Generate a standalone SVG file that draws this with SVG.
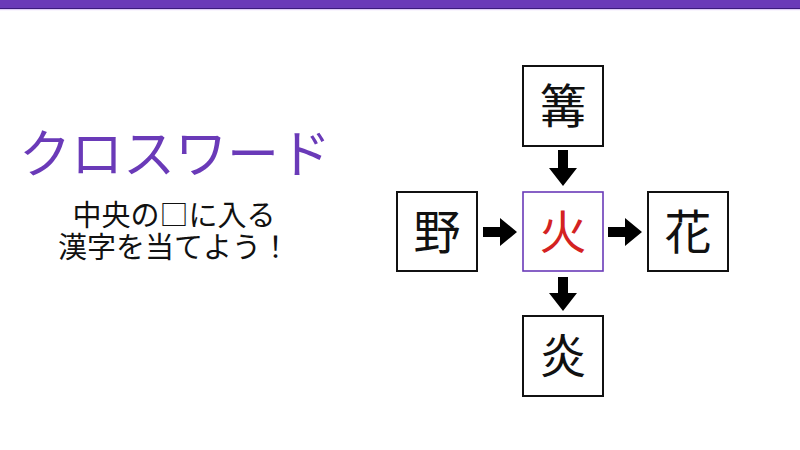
<svg xmlns="http://www.w3.org/2000/svg" width="800" height="450" viewBox="0 0 800 450">
<style>
.jp{font-family:"Noto Sans CJK JP","Noto Sans",sans-serif;}
.box{fill:#fff;stroke:#111;stroke-width:2;}
.cbox{fill:#fff;stroke:#6a3ab8;stroke-width:1.6;}
.k{font-size:47px;text-anchor:middle;fill:#111;}
.arr{fill:#000;}
</style>
<rect x="0" y="0" width="800" height="450" fill="#fff"/>
<rect x="0" y="0" width="800" height="8" fill="#6a3ab8"/>
<rect x="0" y="8" width="800" height="1.2" fill="#3b1b7c"/>
<rect x="0" y="9.2" width="800" height="1" fill="#e2ccfa"/>
<text class="jp" x="175" y="173" font-size="52" fill="#6a3ab8" text-anchor="middle">クロスワード</text>
<text class="jp" font-size="29" fill="#111" text-anchor="middle"><tspan x="174" y="226">中央の□に入る</tspan><tspan x="174" y="258">漢字を当てよう！</tspan></text>
<g id="connectors">
<polygon class="arr" points="558,150 568,150 568,168 577,168 563,186 549,168 558,168"/>
<polygon class="arr" points="558,277 568,277 568,293 577,293 563,311 549,293 558,293"/>
<polygon class="arr" points="483,227 500,227 500,218 517,232 500,246 500,237 483,237"/>
<polygon class="arr" points="608,227 625,227 625,218 642,232 625,246 625,237 608,237"/>
</g>
<g id="node-top"><rect class="box" x="523" y="66" width="80" height="80"/><text class="jp k" x="563" y="123">篝</text></g>
<g id="node-left"><rect class="box" x="397" y="192" width="80" height="79"/><text class="jp k" x="437" y="249">野</text></g>
<g id="node-center"><rect class="cbox" x="523" y="192" width="80" height="79"/><text class="jp k" x="563" y="249" style="fill:#d42222">火</text></g>
<g id="node-right"><rect class="box" x="648" y="192" width="80" height="79"/><text class="jp k" x="688" y="249">花</text></g>
<g id="node-bottom"><rect class="box" x="523" y="316" width="80" height="80"/><text class="jp k" x="563" y="373">炎</text></g>
</svg>
